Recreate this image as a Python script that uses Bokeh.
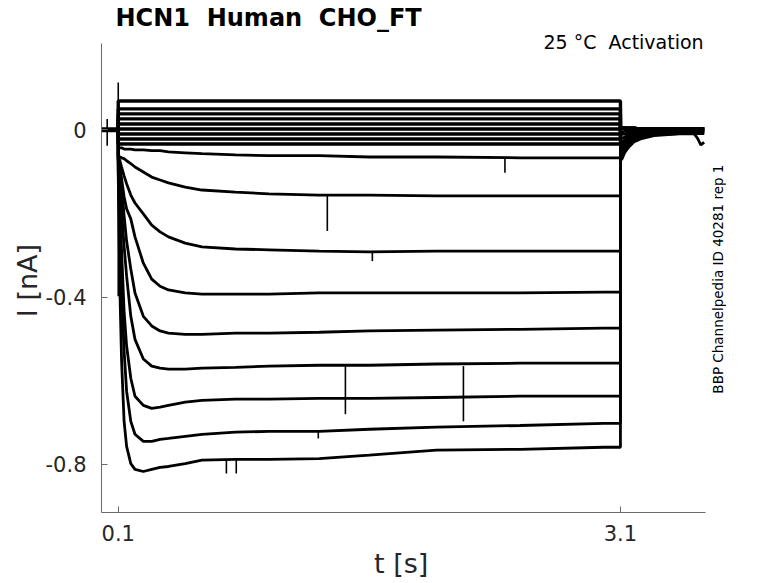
import math
from bokeh.plotting import figure
from bokeh.models import FixedTicker, Label, Range1d
from bokeh.embed import file_html
from bokeh.resources import INLINE

# ---- time bases (s) ----
t_hold = [0.0, 0.0999]
t_step = [0.1, 0.11, 0.12, 0.135, 0.15, 0.175, 0.2, 0.25, 0.3, 0.35, 0.4,
          0.5, 0.6, 0.8, 1.0, 1.3, 1.6, 2.0, 2.5, 3.0, 3.0999]
t_tail = [3.1, 3.11, 3.125, 3.15, 3.18, 3.22, 3.3, 3.45, 3.54, 3.56, 3.58, 3.6]

# ---- holding current (nA) ----
i_hold = [0.0, 0.0]

# ---- non-activating (flat) traces: level during step (nA) ----
flat_levels = [0.069, 0.050, 0.038, 0.026, 0.014, 0.002, -0.010, -0.022, -0.034]
tail_flat = [0.005, 0.005, 0.004, 0.003, 0.003, 0.002, 0.002, 0.002, 0.002, 0.002, 0.002, 0.002]

# ---- activating traces, step values at t_step (nA) ----
step_10 = [-0.043, -0.043, -0.043, -0.046, -0.046, -0.046, -0.048, -0.048, -0.050, -0.050, -0.053,
           -0.055, -0.057, -0.060, -0.062, -0.062, -0.065, -0.065, -0.067, -0.067, -0.067]
step_11 = [-0.062, -0.065, -0.067, -0.069, -0.074, -0.081, -0.089, -0.101, -0.113, -0.120, -0.127,
           -0.137, -0.144, -0.149, -0.153, -0.156, -0.156, -0.158, -0.158, -0.158, -0.158]
step_12 = [-0.065, -0.074, -0.089, -0.110, -0.129, -0.156, -0.175, -0.201, -0.228, -0.244, -0.256,
           -0.271, -0.280, -0.285, -0.287, -0.290, -0.292, -0.290, -0.290, -0.290, -0.290]
step_13 = [-0.069, -0.089, -0.117, -0.160, -0.189, -0.213, -0.256, -0.319, -0.357, -0.374, -0.383,
           -0.390, -0.393, -0.393, -0.393, -0.390, -0.390, -0.390, -0.390, -0.388, -0.388]
step_14 = [-0.069, -0.093, -0.134, -0.206, -0.266, -0.333, -0.390, -0.446, -0.469, -0.481, -0.486,
           -0.489, -0.489, -0.486, -0.486, -0.484, -0.481, -0.479, -0.477, -0.474, -0.474]
step_15 = [-0.074, -0.134, -0.194, -0.278, -0.350, -0.446, -0.501, -0.548, -0.565, -0.570, -0.572,
           -0.572, -0.570, -0.568, -0.565, -0.563, -0.563, -0.560, -0.558, -0.558, -0.558]
step_16 = [-0.086, -0.182, -0.290, -0.434, -0.517, -0.594, -0.637, -0.659, -0.666, -0.663, -0.659,
           -0.651, -0.647, -0.644, -0.644, -0.642, -0.642, -0.640, -0.637, -0.637, -0.637]
step_17 = [-0.098, -0.242, -0.386, -0.529, -0.625, -0.697, -0.728, -0.745, -0.745, -0.740, -0.738,
           -0.733, -0.728, -0.723, -0.721, -0.721, -0.716, -0.711, -0.707, -0.702, -0.702]
step_18 = [-0.110, -0.386, -0.553, -0.697, -0.757, -0.798, -0.812, -0.817, -0.812, -0.807, -0.805,
           -0.798, -0.790, -0.788, -0.788, -0.786, -0.778, -0.766, -0.764, -0.759, -0.759]

# ---- activating traces, tail values at t_tail (nA) ----
tail_10 = [-0.005, -0.005, -0.004, -0.003, -0.002, -0.002, -0.001, -0.001, -0.001, -0.001, -0.001, -0.001]
tail_11 = [-0.012, -0.011, -0.010, -0.007, -0.005, -0.004, -0.003, -0.002, -0.002, -0.002, -0.002, -0.002]
tail_12 = [-0.022, -0.020, -0.017, -0.012, -0.009, -0.007, -0.005, -0.004, -0.004, -0.004, -0.004, -0.004]
tail_13 = [-0.031, -0.029, -0.024, -0.017, -0.012, -0.010, -0.007, -0.005, -0.005, -0.005, -0.005, -0.005]
tail_14 = [-0.040, -0.036, -0.029, -0.022, -0.016, -0.012, -0.008, -0.006, -0.006, -0.006, -0.006, -0.006]
tail_15 = [-0.048, -0.044, -0.036, -0.026, -0.019, -0.014, -0.010, -0.007, -0.007, -0.007, -0.007, -0.007]
tail_16 = [-0.057, -0.052, -0.042, -0.031, -0.022, -0.017, -0.011, -0.008, -0.008, -0.008, -0.008, -0.008]
tail_17 = [-0.065, -0.060, -0.048, -0.036, -0.026, -0.019, -0.012, -0.009, -0.009, -0.009, -0.009, -0.009]
tail_18 = [-0.074, -0.069, -0.055, -0.041, -0.029, -0.022, -0.014, -0.010, -0.010, -0.020, -0.036, -0.030]

# ---- transient artifacts: time (s), upper and lower current (nA) ----
spike_t = [0.034, 0.1, 0.746, 0.805, 1.295, 1.349, 1.457, 1.618, 2.162, 2.41]
spike_hi = [0.026, 0.113, -0.788, -0.790, -0.721, -0.156, -0.565, -0.290, -0.565, -0.065]
spike_lo = [-0.038, -0.398, -0.822, -0.822, -0.738, -0.242, -0.680, -0.314, -0.697, -0.103]

# ---- axes ----
x_axis_span = [0.0, 3.608]
x_view_right = 3.7335
y_axis_span = [-0.915, 0.206]
y_view_top = 0.235
x_ticks = [0.1, 3.1]
x_tick_labels = ["0.1", "3.1"]
y_ticks = [-0.8, -0.4, 0.0]
y_tick_labels = ["-0.8", "-0.4", "0"]

title_text = "HCN1 \u00a0Human \u00a0CHO_FT"
temp_text = "25 \u00b0C \u00a0Activation"
id_text = "BBP Channelpedia ID 40281 rep 1"
x_label = "t [s]\u00a0\u00a0\u00a0"
y_label = "I [nA]\u00a0\u00a0"

FONT = "DejaVu Sans"
AX = "#6a6a6a"
TXT = "#262626"

p = figure(width=740, height=583, output_backend="svg", toolbar_location=None,
           x_range=Range1d(x_axis_span[0], x_view_right),
           y_range=Range1d(y_axis_span[0], y_view_top),
           min_border_left=101, min_border_right=14, min_border_top=31, min_border_bottom=71)
p.outline_line_color = None
p.grid.visible = False
p.background_fill_color = "white"
p.border_fill_color = "white"

# title
p.title.text = title_text
p.title.align = "left"
p.title.offset = 14
p.title.standoff = 0
p.title.text_font = FONT
p.title.text_font_size = "24px"
p.title.text_font_style = "bold"
p.title.text_color = "black"

# flat traces
for lvl in flat_levels:
    tt = t_hold + [0.1, 3.0999] + t_tail
    ii = i_hold + [lvl, lvl] + tail_flat
    p.line(tt, ii, line_color="black", line_width=3.4)

act_steps = [step_10, step_11, step_12, step_13, step_14, step_15, step_16, step_17, step_18]
act_tails = [tail_10, tail_11, tail_12, tail_13, tail_14, tail_15, tail_16, tail_17, tail_18]
for st, tl in zip(act_steps, act_tails):
    p.line(t_hold + t_step + t_tail, i_hold + st + tl, line_color="black", line_width=2.8)

# holding band
p.line(t_hold, i_hold, line_color="black", line_width=5)

# artifacts
p.segment(x0=spike_t, y0=spike_hi, x1=spike_t, y1=spike_lo, line_color="black", line_width=1.6)

# axes
for ax in (p.xaxis[0], p.yaxis[0]):
    ax.axis_line_color = AX
    ax.major_tick_line_color = AX
    ax.major_tick_in = 6
    ax.major_tick_out = 0
    ax.minor_tick_line_color = None
    ax.major_label_text_font = FONT
    ax.major_label_text_font_size = "21px"
    ax.major_label_text_color = TXT
    ax.axis_label_text_font = FONT
    ax.axis_label_text_font_size = "27px"
    ax.axis_label_text_font_style = "normal"
    ax.axis_label_text_color = TXT

p.xaxis.bounds = tuple(x_axis_span)
p.yaxis.bounds = tuple(y_axis_span)
p.xaxis.ticker = FixedTicker(ticks=x_ticks)
p.xaxis.major_label_overrides = {k: v for k, v in zip(x_ticks, x_tick_labels)}
p.yaxis.ticker = FixedTicker(ticks=y_ticks)
p.yaxis.major_label_overrides = {k: v for k, v in zip(y_ticks, y_tick_labels)}
p.xaxis.axis_label = x_label
p.yaxis.axis_label = y_label
p.xaxis.major_label_standoff = 12
p.xaxis.axis_label_standoff = 4
p.yaxis.major_label_standoff = 15
p.yaxis.axis_label_standoff = 0

p.add_layout(Label(x=3.597, y=0.211, text=temp_text, text_font=FONT,
                   text_font_size="19px", text_color="black",
                   text_align="right", text_baseline="middle"))
p.add_layout(Label(x=3.68, y=-0.357, text=id_text, text_font=FONT, angle=math.pi / 2,
                   text_font_size="13.5px", text_color="black",
                   text_align="center", text_baseline="middle"))

open("out.html", "w").write(file_html(p, INLINE))
